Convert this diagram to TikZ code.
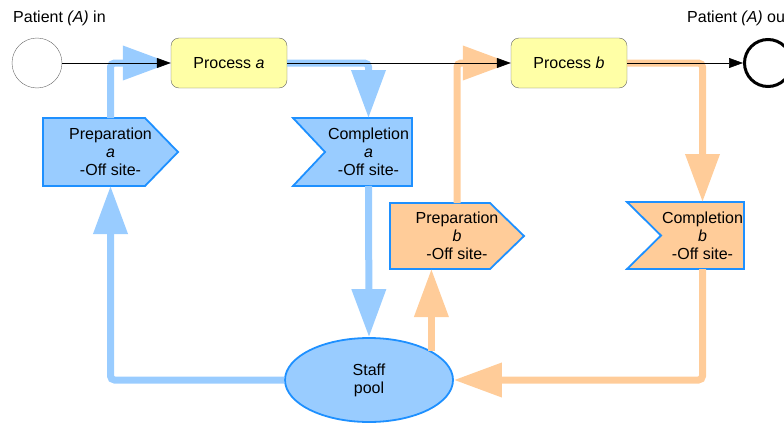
\documentclass[tikz,border=0pt]{standalone}
\usepackage{fontspec}
\setmainfont{Liberation Sans}
\usetikzlibrary{positioning,backgrounds,arrows.meta,shapes.geometric}
\definecolor{flowblue}{HTML}{99CCFF}
\definecolor{edgeblue}{HTML}{1E90FF}
\definecolor{floworange}{HTML}{FFCC99}
\definecolor{procyellow}{HTML}{FFFFA6}
\begin{document}
\begin{tikzpicture}[x=1pt,y=-1pt,
    font=\fontsize{16}{18}\selectfont,
    proc/.style={draw=gray!80!black,fill=procyellow,rounded corners=8pt,
      minimum width=116pt,minimum height=50pt,inner sep=0pt},
    offsite/.style={align=center,inner sep=0pt,outer sep=0pt,minimum height=68pt},
    bluebox/.style={draw=edgeblue,fill=flowblue,line width=1.8pt},
    orangebox/.style={draw=edgeblue,fill=floworange,line width=1.8pt},
    bigflow/.style={line width=7pt,rounded corners=4pt,-{Triangle[length=48pt,width=33pt]}},
    passline/.style={black,line width=0.6pt,-{Triangle[length=14pt,width=10pt]}}]
  \useasboundingbox (0,0) rectangle (784,423);
  \node[anchor=base west,inner sep=0pt] (inlabel) at (13,23) {Patient \textit{(A)} in};
  \node[anchor=base west,inner sep=0pt] (outlabel) at (687,23) {Patient \textit{(A)} out};
  \node[circle,draw=gray!80!black,minimum size=50pt,inner sep=0pt] (in) at (37,63) {};
  \node[circle,draw=black,line width=3pt,minimum size=47pt,inner sep=0pt] (out) at (768,63) {};
  \node[proc] (procA) at (229,63) {Process \textit{a}};
  \node[proc] (procB) at (569,63) {Process \textit{b}};
  \node[offsite,minimum width=135pt] (prepA) at (110.5,152) {Preparation\\\textit{a}\\-Off site-};
  \node[offsite,minimum width=87pt] (complA) at (368.5,152) {Completion\\\textit{a}\\-Off site-};
  \node[offsite,minimum width=134pt,minimum height=66pt] (prepB) at (457,236) {Preparation\\\textit{b}\\-Off site-};
  \node[offsite,minimum width=83pt,minimum height=67pt] (complB) at (702.5,235.5) {Completion\\\textit{b}\\-Off site-};
  \node[ellipse,bluebox,minimum width=168pt,minimum height=84pt,align=center,inner sep=0pt] (pool) at (369,380) {Staff\\pool};
  % off-site outlines
  \begin{scope}[on background layer]
    \draw[bluebox] (prepA.north west) -- ([xshift=-33pt]prepA.north east) -- (prepA.east)
      -- ([xshift=-33pt]prepA.south east) -- (prepA.south west) -- cycle;
    \draw[bluebox] (complA.north east) -- ([xshift=-32pt]complA.north west) -- (complA.west)
      -- ([xshift=-32pt]complA.south west) -- (complA.south east) -- cycle;
    \draw[orangebox] (prepB.north west) -- ([xshift=-34pt]prepB.north east) -- (prepB.east)
      -- ([xshift=-34pt]prepB.south east) -- (prepB.south west) -- cycle;
    \draw[orangebox] (complB.north east) -- ([xshift=-34pt]complB.north west) -- (complB.west)
      -- ([xshift=-34pt]complB.south west) -- (complB.south east) -- cycle;
  \end{scope}
  \begin{scope}[bigflow,flowblue]
    \draw (prepA.north) |- (procA.west);
    \draw (procA.east) -| (complA.north);
    \draw (complA.south) -- (pool.north);
    \draw (pool.west) -| (prepA.south);
  \end{scope}
  \begin{scope}[bigflow,floworange]
    \draw (prepB.north) |- (procB.west);
    \draw (procB.east) -| (complB.north);
    \draw (complB.south) |- (pool.east);
    \draw (pool.25) -- (pool.25 |- prepB.south);
  \end{scope}
  \begin{scope}[passline]
    \draw (in) -- (procA);
    \draw (procA) -- (procB);
    \draw (procB) -- (out);
  \end{scope}
\end{tikzpicture}
\end{document}
